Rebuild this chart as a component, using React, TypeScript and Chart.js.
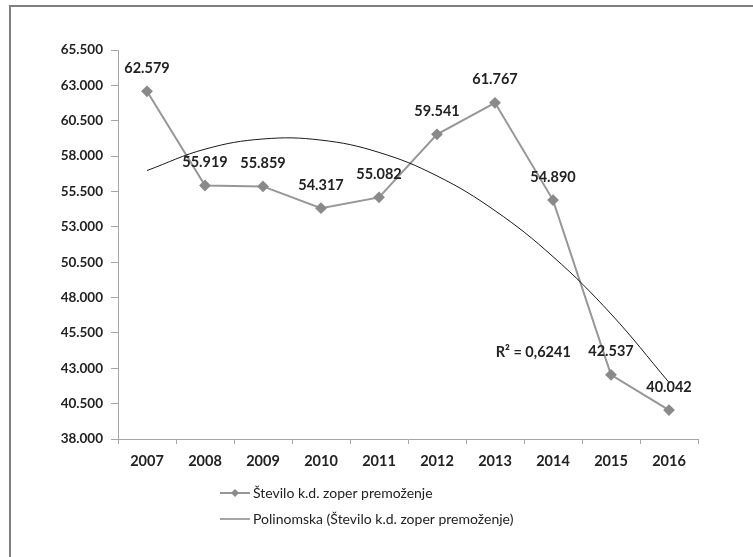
import React, { useEffect, useRef } from 'react';
import { Chart, registerables } from 'chart.js';

Chart.register(...registerables);

const YEARS = ['2007', '2008', '2009', '2010', '2011', '2012', '2013', '2014', '2015', '2016'];
const CASES = [62579, 55919, 55859, 54317, 55082, 59541, 61767, 54890, 42537, 40042];
// Polynomial trendline at each year
const TREND = [56980, 58490, 59210, 59130, 58260, 56600, 54140, 50890, 46840, 42000];
const SERIES_LABEL = 'Število k.d. zoper premoženje';
const TREND_LABEL = 'Polinomska (Število k.d. zoper premoženje)';
const R2_LABEL = 'R² = 0,6241';
const R2_AT = { index: 6.66, value: 44150 };
const Y_MIN = 38000;
const Y_MAX = 65500;
const Y_STEP = 2500;

const FONT = 'Lato, "Open Sans", "DejaVu Sans", sans-serif';
const TEXT = '#222222';
const LINE_GRAY = '#979797';
const MARKER_GRAY = '#8a8a8a';
const AXIS_GRAY = '#a6a6a6';

const fmt = (v: number) => Math.round(v).toString().replace(/\B(?=(\d{3})+(?!\d))/g, '.');

const labelsPlugin = {
  id: 'valueLabels',
  afterDatasetsDraw(chart: any) {
    const ctx = chart.ctx;
    const meta = chart.getDatasetMeta(0);
    ctx.save();
    ctx.font = `bold 14.5px ${FONT}`;
    ctx.fillStyle = TEXT;
    ctx.textAlign = 'center';
    ctx.textBaseline = 'middle';
    meta.data.forEach((pt: any, i: number) => {
      ctx.fillText(fmt(CASES[i]), pt.x, pt.y - 23);
    });
    const xs = chart.scales.x;
    const ys = chart.scales.y;
    ctx.fillText(R2_LABEL, xs.getPixelForValue(R2_AT.index), ys.getPixelForValue(R2_AT.value));
    ctx.restore();
  },
};

const legendPlugin = {
  id: 'customLegend',
  afterDraw(chart: any) {
    const ctx = chart.ctx;
    const left = chart.chartArea.left + 102;
    const rows = [
      { y: chart.chartArea.bottom + 54, label: SERIES_LABEL, color: LINE_GRAY, width: 2, marker: true },
      { y: chart.chartArea.bottom + 80, label: TREND_LABEL, color: '#6a6a6a', width: 1.2, marker: false },
    ];
    ctx.save();
    ctx.font = `14px ${FONT}`;
    ctx.textBaseline = 'middle';
    ctx.textAlign = 'left';
    rows.forEach((r) => {
      ctx.strokeStyle = r.color;
      ctx.lineWidth = r.width;
      ctx.beginPath();
      ctx.moveTo(left, r.y);
      ctx.lineTo(left + 30, r.y);
      ctx.stroke();
      if (r.marker) {
        ctx.fillStyle = MARKER_GRAY;
        ctx.beginPath();
        ctx.moveTo(left + 15, r.y - 4);
        ctx.lineTo(left + 19, r.y);
        ctx.lineTo(left + 15, r.y + 4);
        ctx.lineTo(left + 11, r.y);
        ctx.closePath();
        ctx.fill();
      }
      ctx.fillStyle = TEXT;
      ctx.fillText(r.label, left + 33, r.y);
    });
    ctx.restore();
  },
};

export default function App() {
  const ref = useRef<HTMLCanvasElement | null>(null);

  useEffect(() => {
    if (!ref.current) return;
    const chart = new Chart(ref.current, {
      type: 'line',
      data: {
        labels: YEARS,
        datasets: [
          {
            label: SERIES_LABEL,
            data: CASES,
            borderColor: LINE_GRAY,
            borderWidth: 2,
            pointStyle: 'rectRot',
            pointRadius: 4.5,
            pointBackgroundColor: MARKER_GRAY,
            pointBorderColor: MARKER_GRAY,
            tension: 0,
            order: 2,
          },
          {
            label: TREND_LABEL,
            data: TREND,
            borderColor: '#1a1a1a',
            borderWidth: 1,
            pointRadius: 0,
            tension: 0.4,
            order: 1,
          },
        ],
      },
      options: {
        animation: false,
        responsive: false,
        devicePixelRatio: 1,
        layout: { padding: { left: 0, right: 55, top: 50, bottom: 78 } },
        plugins: {
          legend: { display: false },
          tooltip: { enabled: false },
        },
        scales: {
          x: {
            type: 'category',
            offset: true,
            afterFit: (s: any) => {
              s.height = 40;
            },
            grid: {
              display: true,
              drawOnChartArea: false,
              drawTicks: true,
              tickLength: 5,
              offset: true,
              color: AXIS_GRAY,
            },
            border: { display: true, color: AXIS_GRAY, width: 1 },
            ticks: {
              color: TEXT,
              font: { family: FONT, size: 14.5, weight: 'bold' },
              padding: 9,
              maxRotation: 0,
            },
          },
          y: {
            min: Y_MIN,
            max: Y_MAX,
            afterFit: (s: any) => {
              s.width = 118;
            },
            grid: {
              display: true,
              drawOnChartArea: false,
              drawTicks: true,
              tickLength: 7,
              color: AXIS_GRAY,
            },
            border: { display: true, color: AXIS_GRAY, width: 1 },
            ticks: {
              stepSize: Y_STEP,
              color: TEXT,
              font: { family: FONT, size: 13.5, weight: 'bold' },
              padding: 8,
              callback: (v: any) => fmt(Number(v)),
            },
          },
        },
      },
      plugins: [labelsPlugin, legendPlugin],
    });
    return () => chart.destroy();
  }, []);

  return (
    <div
      style={{
        position: 'absolute',
        left: 0,
        top: 0,
        width: 753,
        height: 557,
        background: '#fff',
        overflow: 'hidden',
      }}
    >
      <canvas
        ref={ref}
        width={753}
        height={557}
        style={{ position: 'absolute', left: 0, top: 0, width: 753, height: 557 }}
      />
      <div
        style={{
          position: 'absolute',
          left: 9,
          top: 5,
          width: 744,
          height: 552,
          borderTop: '2px solid #7f7f7f',
          borderLeft: '2px solid #7f7f7f',
          boxSizing: 'border-box',
          pointerEvents: 'none',
        }}
      />
    </div>
  );
}
